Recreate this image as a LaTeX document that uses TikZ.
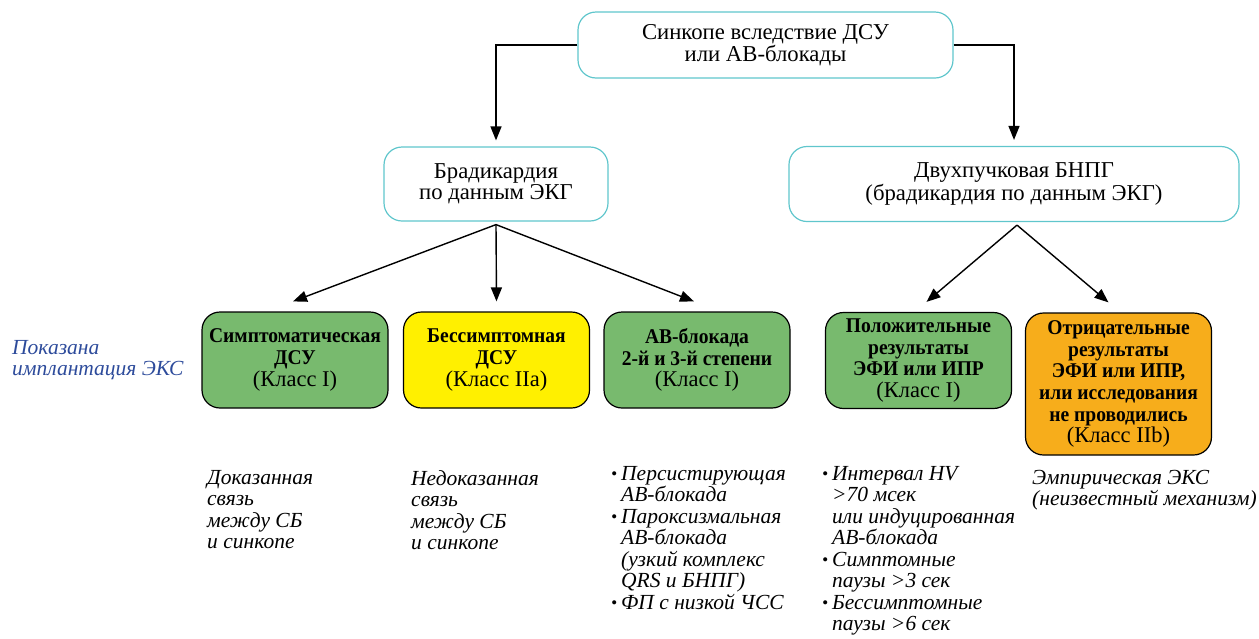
\documentclass[tikz,border=0pt]{standalone}
\usepackage{fontspec}
\usepackage{graphicx}
\setmainfont{Liberation Serif}
\newfontfamily\bxfont{Liberation Serif}[FakeStretch=0.93]
\usetikzlibrary{arrows.meta}
\definecolor{cyanb}{RGB}{96,198,204}
\definecolor{gbox}{RGB}{120,186,110}
\definecolor{ybox}{RGB}{255,240,0}
\definecolor{obox}{RGB}{247,173,27}
\definecolor{lblue}{RGB}{45,75,155}
\newcommand\bxb[1]{{\bxfont\bfseries\fontsize{21}{21.7}\selectfont #1}}
\newcommand\bul{\makebox[10pt][l]{\raisebox{1pt}{\scalebox{0.8}{\textbullet}}}}
\newcommand\ind{\hspace*{10pt}}
\begin{document}
\begin{tikzpicture}[x=1pt,y=-1pt,
  topbox/.style={draw=cyanb, line width=1.2pt, rounded corners=18pt, align=center, inner sep=0pt, font=\fontsize{22.7}{20.5}\selectfont},
  clsbox/.style={draw=black, line width=1.2pt, rounded corners=18pt, align=center, inner sep=0pt, minimum width=186pt, font=\fontsize{22.5}{21.7}\selectfont},
  arr/.style={line width=1.4pt, -{Triangle[length=14pt,width=11pt]}},
  note/.style={anchor=north west, align=left, inner sep=0pt, font=\fontsize{21.5}{21.5}\selectfont\itshape}
]
\useasboundingbox (0,0) rectangle (1259,638);
\node[topbox, minimum width=375pt, minimum height=66pt] (top) at (765.5,45) {Синкопе вследствие ДСУ\\или АВ-блокады};
\node[topbox, minimum width=224pt, minimum height=74pt] (brady) at (496,184) {Брадикардия\\по данным ЭКГ};
\node[topbox, minimum width=450pt, minimum height=75pt] (dvuh) at (1014,184) {Двухпучковая БНПГ\\(брадикардия по данным ЭКГ)};

\node[clsbox, fill=gbox, minimum height=96pt] (b1) at (295,360) {\bxb{Симптоматическая}\\\bxb{ДСУ}\\(Класс I)};
\node[clsbox, fill=ybox, minimum height=96pt] (b2) at (496.5,360) {\bxb{Бессимптомная}\\\bxb{ДСУ}\\(Класс IIa)};
\node[clsbox, fill=gbox, minimum height=96pt] (b3) at (697,360) {\bxb{АВ-блокада}\\\bxb{2-й и 3-й степени}\\(Класс I)};
\node[clsbox, fill=gbox, minimum height=96pt] (b4) at (918.5,360.5) {\bxb{Положительные}\\\bxb{результаты}\\\bxb{ЭФИ или ИПР}\\(Класс I)};
\node[clsbox, fill=obox, minimum height=142pt] (b5) at (1118.5,384) {\bxb{Отрицательные}\\\bxb{результаты}\\\bxb{ЭФИ или ИПР,}\\\bxb{или исследования}\\\bxb{не проводились}\\(Класс IIb)};

\draw[arr, shorten >=6pt] (top.west) -| (brady.north);
\draw[arr, shorten >=6pt] (top.east) -| (dvuh.north);
\coordinate (bf) at ([yshift=-3pt]brady.south);
\draw[arr] (bf) -- ([xshift=-2pt,yshift=10pt]b1.north);
\draw[arr] (bf) -- ([yshift=10pt]b2.north);
\draw[arr] (bf) -- ([xshift=-3pt,yshift=10pt]b3.north);
\coordinate (df) at ([xshift=3pt,yshift=-3pt]dvuh.south);
\draw[arr] (df) -- ([xshift=8pt,yshift=10pt]b4.north);
\draw[arr] (df) -- ([xshift=-10pt,yshift=10pt]b5.north);

\node[note, text=lblue] (lbl) at (12,340) {Показана\\имплантация ЭКС};
\node[note] (n1) at (207,470) {Доказанная\\связь\\между СБ\\и синкопе};
\node[note] (n2) at (411,470) {Недоказанная\\связь\\между СБ\\и синкопе};
\node[note] (n3) at (611,466) {\bul Персистирующая\\\ind АВ-блокада\\\bul Пароксизмальная\\\ind АВ-блокада\\\ind (узкий комплекс\\\ind QRS и БНПГ)\\\bul ФП с низкой ЧСС};
\node[note] (n4) at (822,466) {\bul Интервал HV\\\ind >70 мсек\\\ind или индуцированная\\\ind АВ-блокада\\\bul Симптомные\\\ind паузы >3 сек\\\bul Бессимптомные\\\ind паузы >6 сек};
\node[note] (n5) at (1032,470) {Эмпирическая ЭКС\\(неизвестный механизм)};
\end{tikzpicture}
\end{document}
